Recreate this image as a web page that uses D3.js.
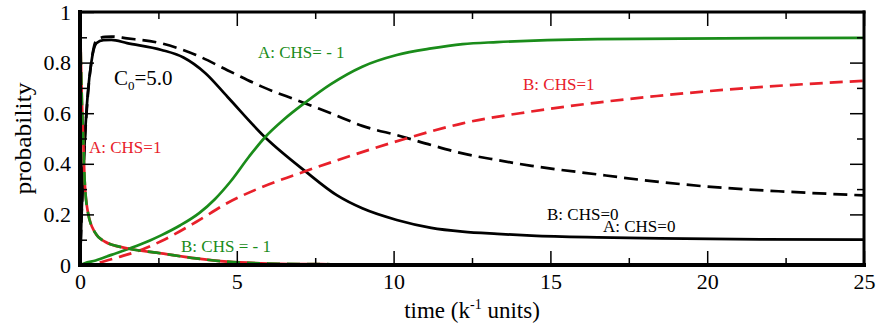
<!DOCTYPE html>
<html>
<head>
<meta charset="utf-8">
<script src="https://cdn.jsdelivr.net/npm/d3@7"></script>
<style>
  body { margin: 0; background: #fff; }
  svg { display: block; font-family: "Liberation Serif", "Times New Roman", serif; }
  .tick line { stroke: #000; stroke-width: 1.5; }
  .tick text { font-family: "Liberation Serif", "Times New Roman", serif; }
</style>
</head>
<body>
<svg id="chart" width="878" height="329"></svg>
<script>
// ticks
const timeTicks = [0, 5, 10, 15, 20, 25];
const timeMinor = [2.5, 7.5, 12.5, 17.5, 22.5];
const probTicks = [0, 0.2, 0.4, 0.6, 0.8, 1];
const probMinor = [0.1, 0.3, 0.5, 0.7, 0.9];

// A: CHS=0 (black solid)
const tA0 = [0, 0.05, 0.15, 0.25, 0.36, 0.52, 0.75, 1.0, 1.5, 2.6, 3.3, 4.0, 4.7, 5.9, 7.2, 8.2, 9.0, 10.1, 11.2, 12.2, 13.3, 14.4, 16.5, 18.5, 21.7, 25];
const pA0 = [0, 0.2, 0.49, 0.68, 0.80, 0.876, 0.889, 0.89, 0.877, 0.85, 0.82, 0.758, 0.665, 0.505, 0.369, 0.275, 0.224, 0.178, 0.147, 0.132, 0.123, 0.116, 0.109, 0.105, 0.101, 0.10];
// B: CHS=0 (black dashed)
const tB0 = [0, 0.05, 0.15, 0.25, 0.36, 0.53, 0.8, 1.0, 1.5, 2.6, 3.7, 4.7, 5.8, 6.9, 8.0, 9.0, 10.2, 11.2, 12.2, 13.3, 14.4, 16.5, 18, 20, 22.5, 25];
const pB0 = [0, 0.19, 0.48, 0.67, 0.80, 0.89, 0.902, 0.903, 0.896, 0.876, 0.83, 0.77, 0.705, 0.652, 0.60, 0.55, 0.51, 0.474, 0.441, 0.415, 0.392, 0.358, 0.335, 0.31, 0.29, 0.275];
// A: CHS=-1 (green solid)
const tAm = [0, 0.15, 0.5, 1.0, 1.64, 2.23, 2.6, 3.2, 3.8, 4.3, 4.8, 5.4, 5.9, 6.5, 7.16, 8.0, 9.0, 10.1, 11.2, 12.2, 13.3, 14.9, 16.5, 20.5, 25];
const pAm = [0, 0.007, 0.018, 0.04, 0.068, 0.097, 0.118, 0.157, 0.205, 0.26, 0.33, 0.43, 0.505, 0.575, 0.64, 0.715, 0.784, 0.83, 0.856, 0.873, 0.881, 0.889, 0.893, 0.896, 0.898];
// B: CHS=1 (red dashed)
const tBp = [0, 0.4, 0.7, 1.2, 1.85, 2.6, 3.7, 4.7, 5.8, 6.85, 8.23, 10.4, 12.2, 14.35, 16.5, 18.4, 20.5, 22.6, 25];
const pBp = [0, 0.002, 0.012, 0.03, 0.055, 0.095, 0.17, 0.245, 0.308, 0.356, 0.415, 0.50, 0.56, 0.606, 0.642, 0.668, 0.692, 0.711, 0.728];
// A: CHS=1 (red solid) and B: CHS=-1 (green dashed), nearly identical
const tAp = [0, 0.03, 0.06, 0.1, 0.15, 0.25, 0.47, 0.8, 1.5, 2.6, 3.7, 4.7, 6, 8, 12, 25];
const pAp = [1, 0.8, 0.65, 0.51, 0.33, 0.21, 0.13, 0.092, 0.066, 0.046, 0.026, 0.013, 0.006, 0.003, 0.001, 0];
const tBm = [0, 0.03, 0.06, 0.1, 0.15, 0.25, 0.47, 0.8, 1.5, 2.6, 3.7, 4.7, 6, 8, 12, 25];
const pBm = [1, 0.8, 0.65, 0.51, 0.33, 0.21, 0.13, 0.092, 0.066, 0.046, 0.026, 0.013, 0.006, 0.003, 0.001, 0];

const svg = d3.select("#chart");
const mLeft = 80, mRight = 864, mTop = 12, mBottom = 265;

const x = d3.scaleLinear().domain([0, 25]).range([mLeft, mRight]);
const y = d3.scaleLinear().domain([0, 1]).range([mBottom, mTop]);

const red = "#e8202a", green = "#1a8c1a";

svg.append("clipPath").attr("id", "plot")
  .append("rect").attr("x", mLeft).attr("y", mTop)
  .attr("width", mRight - mLeft).attr("height", mBottom - mTop);

const line = d3.line().x(d => x(d[0])).y(d => y(d[1])).curve(d3.curveMonotoneX);
const zip = (ts, ps) => ts.map((t, i) => [t, ps[i]]);

const series = [
  { t: tA0, p: pA0, color: "#000", dash: null },
  { t: tB0, p: pB0, color: "#000", dash: "14,7" },
  { t: tAm, p: pAm, color: green, dash: null },
  { t: tBp, p: pBp, color: red, dash: "13,7" },
  { t: tAp, p: pAp, color: red, dash: null },
  { t: tBm, p: pBm, color: green, dash: "13,7" }
];

const g = svg.append("g").attr("clip-path", "url(#plot)");
g.selectAll("path").data(series).enter().append("path")
  .attr("d", d => line(zip(d.t, d.p)))
  .attr("fill", "none")
  .attr("stroke", d => d.color)
  .attr("stroke-width", 2.7)
  .attr("stroke-dasharray", d => d.dash);

// axes with inward ticks
function axisG(axis, tx, ty) {
  const a = svg.append("g").attr("transform", `translate(${tx},${ty})`).call(axis);
  a.attr("font-family", null).attr("font-size", null);
  a.select(".domain").remove();
  return a;
}
const fmt = d => String(d);
axisG(d3.axisBottom(x).tickValues(timeTicks).tickSizeInner(-14).tickPadding(8).tickFormat(fmt), 0, mBottom);
axisG(d3.axisBottom(x).tickValues(timeMinor).tickSizeInner(-7).tickFormat(""), 0, mBottom);
axisG(d3.axisTop(x).tickValues(timeTicks).tickSizeInner(-14).tickFormat(""), 0, mTop);
axisG(d3.axisTop(x).tickValues(timeMinor).tickSizeInner(-7).tickFormat(""), 0, mTop);
axisG(d3.axisLeft(y).tickValues(probTicks).tickSizeInner(-14).tickPadding(9).tickFormat(fmt), mLeft, 0);
axisG(d3.axisLeft(y).tickValues(probMinor).tickSizeInner(-7).tickFormat(""), mLeft, 0);
axisG(d3.axisRight(y).tickValues(probTicks).tickSizeInner(-14).tickFormat(""), mRight, 0);
axisG(d3.axisRight(y).tickValues(probMinor).tickSizeInner(-7).tickFormat(""), mRight, 0);

svg.selectAll(".tick text").attr("font-size", 22).attr("fill", "#000");

// frame
const frame = svg.append("g").attr("stroke", "#000").attr("stroke-linecap", "square");
frame.append("line").attr("x1", mLeft).attr("x2", mRight).attr("y1", mTop).attr("y2", mTop).attr("stroke-width", 3);
frame.append("line").attr("x1", mRight).attr("x2", mRight).attr("y1", mTop).attr("y2", mBottom).attr("stroke-width", 3);
frame.append("line").attr("x1", mLeft).attr("x2", mLeft).attr("y1", mTop).attr("y2", mBottom).attr("stroke-width", 4);
frame.append("line").attr("x1", mLeft).attr("x2", mRight).attr("y1", mBottom).attr("y2", mBottom).attr("stroke-width", 4);

// axis titles
const xt = svg.append("text").attr("x", (mLeft + mRight) / 2).attr("y", 318)
  .attr("text-anchor", "middle").attr("font-size", 23);
xt.append("tspan").text("time (k");
xt.append("tspan").attr("font-size", 14).attr("dy", -9).text("-1");
xt.append("tspan").attr("dy", 9).text(" units)");

svg.append("text").attr("transform", `translate(31,${(mTop + mBottom) / 2}) rotate(-90)`)
  .attr("text-anchor", "middle").attr("font-size", 23)
  .attr("textLength", 112).attr("lengthAdjust", "spacingAndGlyphs")
  .text("probability");

// annotations
const c0 = svg.append("text").attr("x", 114).attr("y", 85).attr("font-size", 21);
c0.append("tspan").text("C");
c0.append("tspan").attr("font-size", 13).attr("dy", 5).text("0");
c0.append("tspan").attr("dy", -5).text("=5.0");

const notes = [
  { text: "A: CHS= - 1", x: 258, y: 58, color: green },
  { text: "B: CHS=1", x: 523, y: 90, color: red },
  { text: "A: CHS=1", x: 89, y: 153, color: red },
  { text: "B: CHS = - 1", x: 181, y: 252, color: green },
  { text: "B: CHS=0", x: 547, y: 220, color: "#000" },
  { text: "A: CHS=0", x: 603, y: 232, color: "#000" }
];
svg.selectAll(".note").data(notes).enter().append("text")
  .attr("class", "note")
  .attr("x", d => d.x).attr("y", d => d.y)
  .attr("font-size", 17)
  .attr("fill", d => d.color)
  .text(d => d.text);
</script>
</body>
</html>
